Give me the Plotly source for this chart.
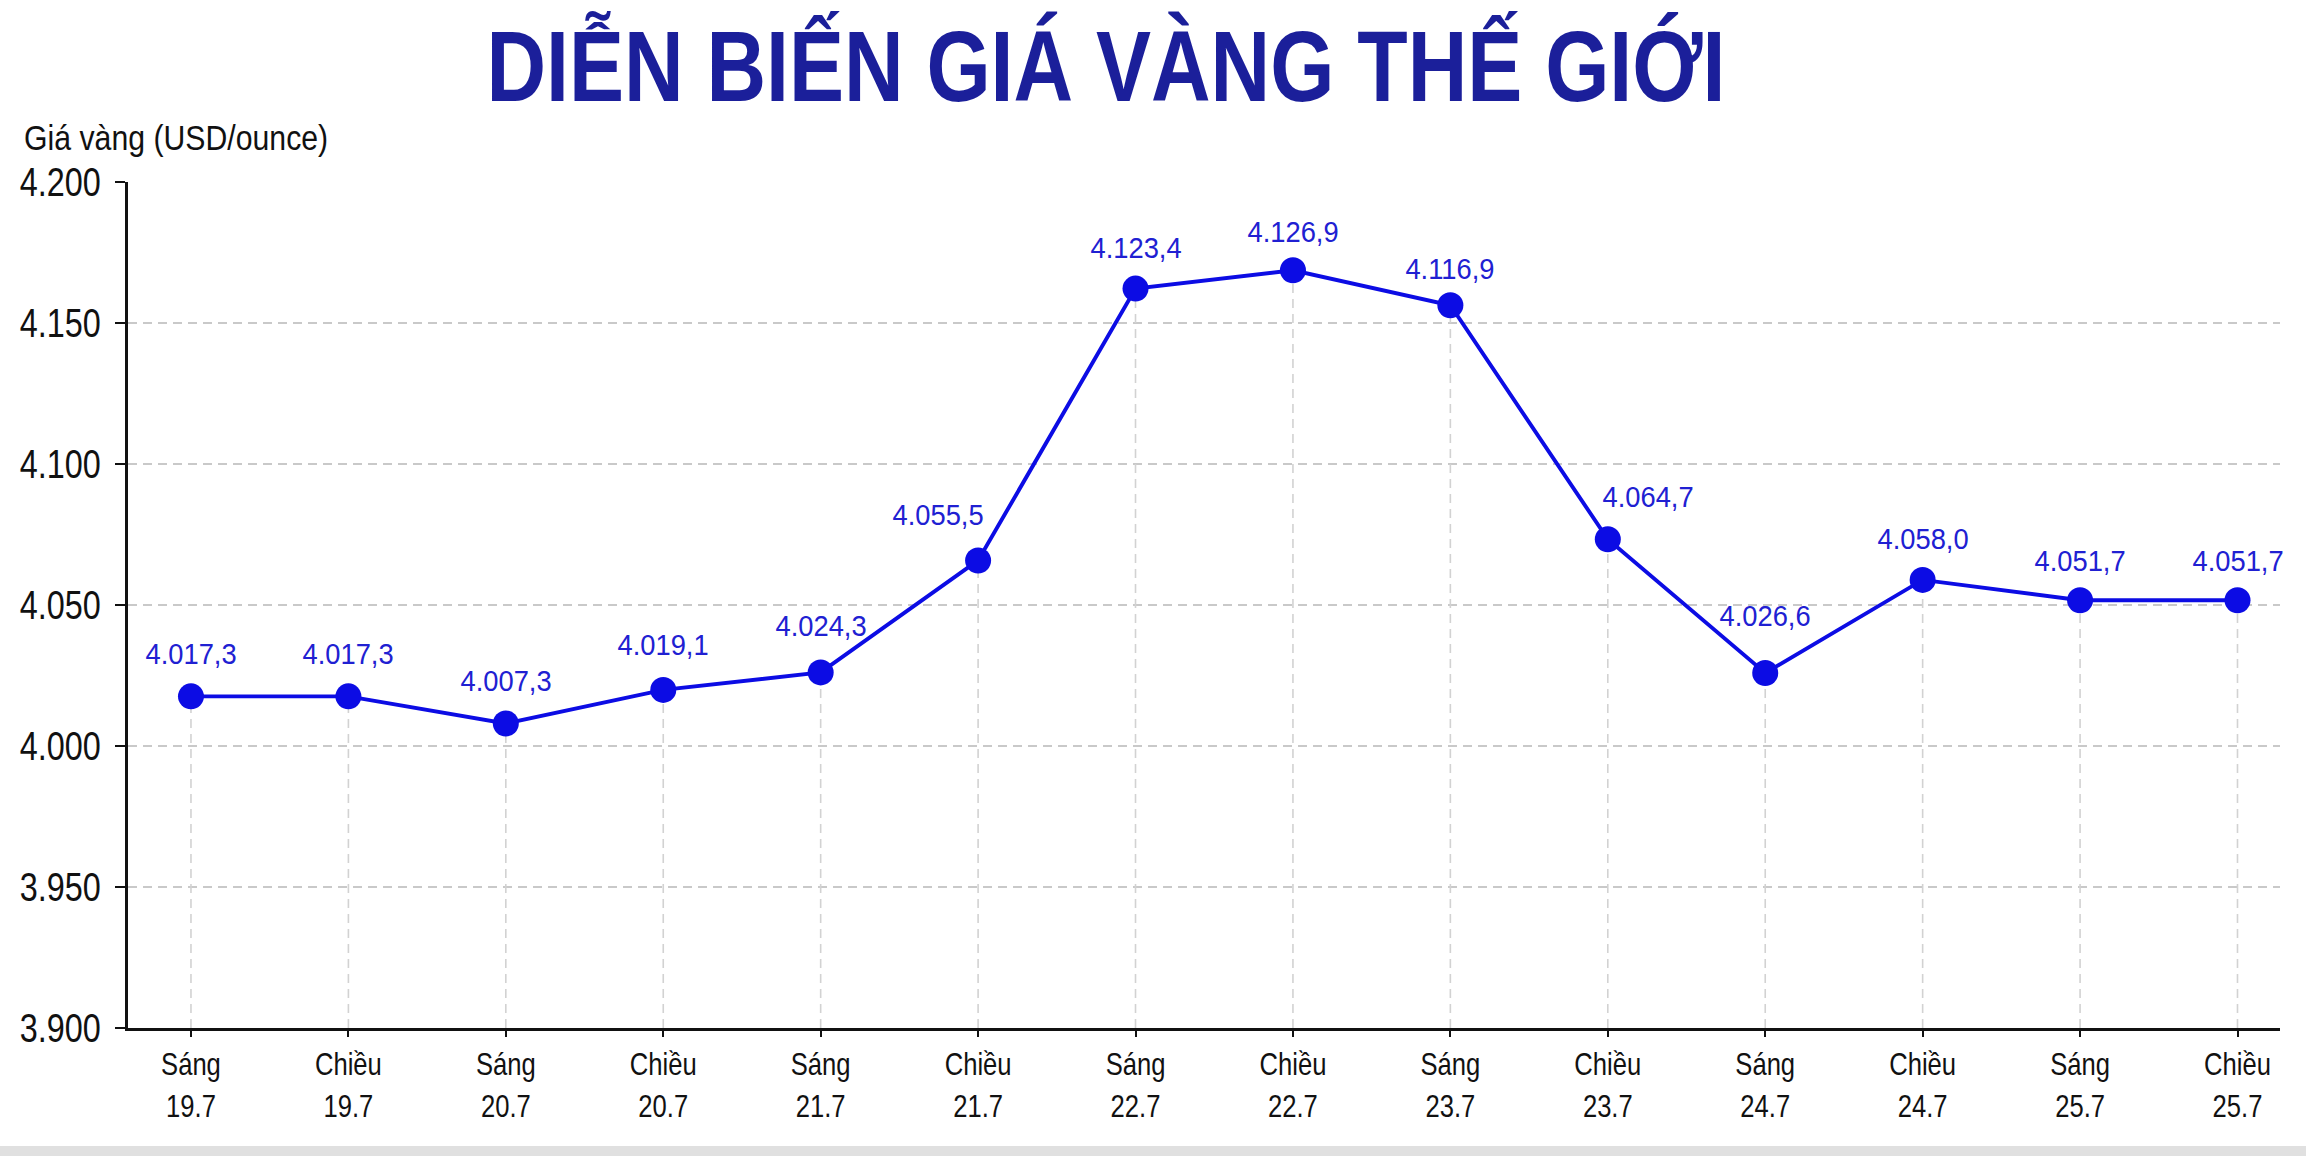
import plotly.graph_objects as go

# ---- data ----
categories = ["Sáng<br>19.7", "Chiều<br>19.7", "Sáng<br>20.7", "Chiều<br>20.7",
              "Sáng<br>21.7", "Chiều<br>21.7", "Sáng<br>22.7", "Chiều<br>22.7",
              "Sáng<br>23.7", "Chiều<br>23.7", "Sáng<br>24.7", "Chiều<br>24.7",
              "Sáng<br>25.7", "Chiều<br>25.7"]
# plotted positions
prices = [4017.6, 4017.6, 4008.0, 4019.9, 4026.1, 4065.8, 4162.2, 4168.7,
          4156.3, 4073.3, 4025.9, 4058.9, 4051.7, 4051.7]
# printed data labels
price_labels = ["4.017,3", "4.017,3", "4.007,3", "4.019,1", "4.024,3", "4.055,5",
                "4.123,4", "4.126,9", "4.116,9", "4.064,7", "4.026,6", "4.058,0",
                "4.051,7", "4.051,7"]
y_ticks = [3900, 3950, 4000, 4050, 4100, 4150, 4200]

# ---- styles ----
label_yshift = [43, 43, 43, 45, 47, 46, 41, 39, 37, 43, 57, 41, 40, 40]
label_xshift = [0, 0, 0, 0, 0, -40, 0, 0, 0, 40, 0, 0, 0, 0]
FONT = "Liberation Sans, Arial, sans-serif"
LINE_BLUE = "#0c0ce4"
LABEL_BLUE = "#2020d2"
TITLE_BLUE = "#1b1f9a"

W, H = 2306, 1156
ML, MR, MT, MB = 128, 26, 182, 128
plot_w = W - ML - MR
plot_h = H - MT - MB

fig = go.Figure()

# drop lines from each point to the x axis
dx, dy = [], []
for c, v in zip(categories, prices):
    dx += [c, c, None]
    dy += [y_ticks[0], v, None]
fig.add_trace(go.Scatter(x=dx, y=dy, mode="lines", hoverinfo="skip",
                         line=dict(color="#d2d2d2", width=1.6, dash="9px,6px"),
                         showlegend=False))

fig.add_trace(go.Scatter(x=categories, y=prices, mode="lines+markers",
                         line=dict(color=LINE_BLUE, width=3.9),
                         marker=dict(color=LINE_BLUE, size=26),
                         showlegend=False, cliponaxis=False))

for c, v, t, ys, xs in zip(categories, prices, price_labels, label_yshift, label_xshift):
    fig.add_annotation(x=c, y=v, text=t, showarrow=False, xanchor="center",
                       yanchor="middle", yshift=ys, xshift=xs,
                       font=dict(family=FONT, size=30, color=LABEL_BLUE))

fig.add_annotation(xref="paper", yref="paper", x=(22 - ML) / plot_w,
                   y=1 + (MT - 137) / plot_h, xanchor="left", yanchor="middle",
                   text="Giá vàng (USD/ounce)", showarrow=False,
                   font=dict(family=FONT, size=36, color="#111111"))

# bottom grey strip
fig.add_shape(type="rect", xref="paper", yref="paper", x0=-0.2, x1=1.2,
              y0=-(H - MT - plot_h + 20) / plot_h, y1=-(1146 - MT - plot_h) / plot_h,
              fillcolor="#e0e0e0", line=dict(width=0), layer="below")

fig.update_layout(
    template="none",
    width=W, height=H,
    margin=dict(l=ML, r=MR, t=MT, b=MB, autoexpand=False),
    paper_bgcolor="white", plot_bgcolor="white",
    separators=",.",
    title=dict(text="<b>DIỄN BIẾN GIÁ VÀNG THẾ GIỚI</b>", x=1106 / W, xanchor="center",
               y=1 - 66 / H, yanchor="middle", yref="container",
               font=dict(family=FONT, size=100, color=TITLE_BLUE)),
    xaxis=dict(type="category", range=[-0.4, len(categories) - 1 + 0.27],
               automargin=False, ticklabelstandoff=0,
               showgrid=False, showline=True, linecolor="#111111", linewidth=3,
               ticks="outside", ticklen=6, tickwidth=2, tickcolor="#111111",
               tickfont=dict(family=FONT, size=32, color="#111111"),
               zeroline=False),
    yaxis=dict(range=[y_ticks[0], y_ticks[-1]], tickvals=y_ticks, tickformat=",d",
               automargin=False, ticklabelstandoff=6,
               showgrid=True, gridcolor="#c9c9c9", gridwidth=2, griddash="9px,6px",
               showline=True, linecolor="#111111", linewidth=3,
               ticks="outside", ticklen=10, tickwidth=2, tickcolor="#111111",
               tickfont=dict(family=FONT, size=41, color="#111111"),
               zeroline=False),
)

# condense the text horizontally (the reference uses a narrow typeface)
post_js = """
var gd = document.getElementById('{plot_id}');
function squeeze(el, s, where) {
  if (el.getAttribute('data-sq')) return;
  var bb = el.getBBox();
  var ox = where === 'left' ? bb.x : (where === 'right' ? bb.x + bb.width : bb.x + bb.width / 2);
  var tr = el.getAttribute('transform') || '';
  el.setAttribute('transform', tr + ' translate(' + ox + ',0) scale(' + s + ',1) translate(' + (-ox) + ',0)');
  el.setAttribute('data-sq', '1');
}
function fixText() {
  gd.querySelectorAll('.gtitle').forEach(function (e) { squeeze(e, 0.825, 'center'); });
  gd.querySelectorAll('.ytick text').forEach(function (e) { squeeze(e, 0.79, 'right'); });
  gd.querySelectorAll('.xtick text').forEach(function (e) { squeeze(e, 0.80, 'center'); });
  gd.querySelectorAll('text.annotation-text').forEach(function (e) {
    if (e.textContent.indexOf('Giá') === 0) { squeeze(e, 0.84, 'left'); }
    else { squeeze(e, 0.91, 'center'); }
  });
}
fixText();
gd.on('plotly_afterplot', fixText);
"""

fig.write_html("out.html", config={"displayModeBar": False}, post_script=post_js)
